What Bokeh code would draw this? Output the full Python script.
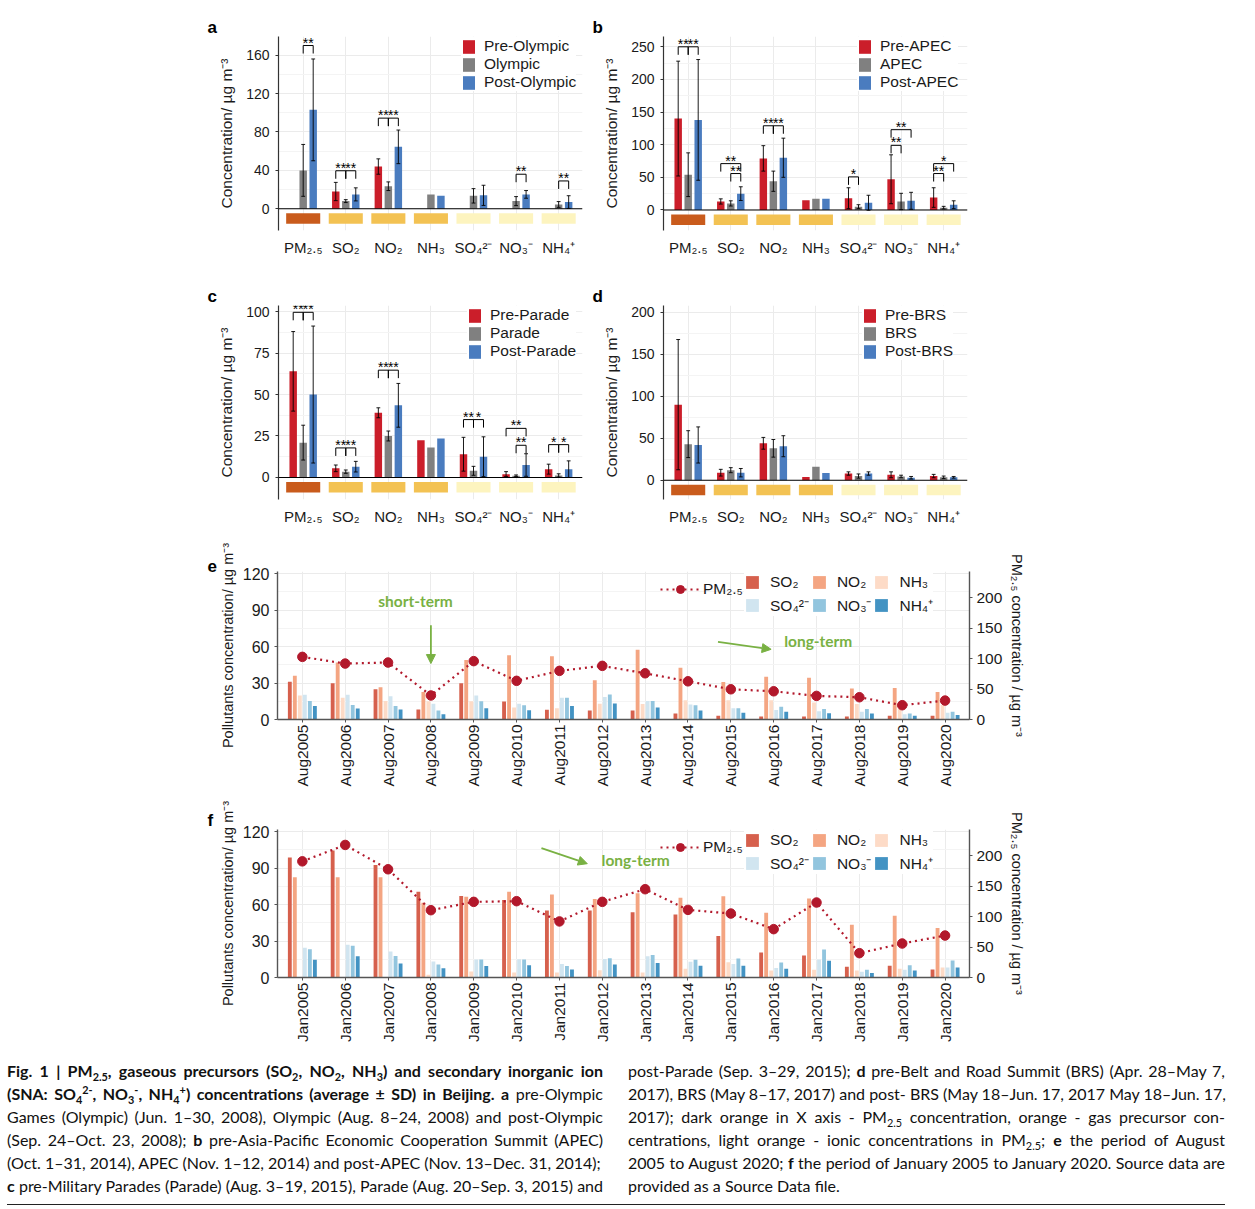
import math
from bokeh.plotting import figure
from bokeh.models import (Range1d, LinearAxis, FixedTicker, Legend, LegendItem,
                          Label, Arrow, NormalHead, Span, Spacer, Div)
from bokeh.layouts import column, row
from bokeh.embed import file_html
from bokeh.resources import INLINE
from bokeh.core.properties import value

FONT = "Liberation Sans"
TXT = "#1a1a1a"
GRID = "#EBEBEB"
GRID_MINOR = "#F4F4F4"
GREEN = "#79B143"

# ---------------- panels a-d data ----------------
CATEGORIES = ["PM₂.₅", "SO₂", "NO₂", "NH₃", "SO₄²⁻", "NO₃⁻", "NH₄⁺"]
CATEGORY_CLASS = ["pm", "gas", "gas", "gas", "ion", "ion", "ion"]
STRIP_COLORS = {"pm": "#C95B1C", "gas": "#F3C253", "ion": "#FDF4BF"}
GROUP_COLORS = ["#CB1E2A", "#808080", "#4A7CBF"]

A_PERIODS = ["Pre-Olympic", "Olympic", "Post-Olympic"]
A_PRE = [None, 18, 44, None, None, None, None]
A_PRE_SD = [None, 9.5, 8, None, None, None, None]
A_MID = [40, 8, 23.5, 15, 13.5, 8, 4.5]
A_MID_SD = [27, 1.5, 4.5, None, 7.5, 4.7, 3]
A_POST = [103, 15, 64.5, 13.5, 14, 15, 7]
A_POST_SD = [53, 6.8, 17.5, None, 10.5, 4, 6.6]
A_SIG = [(0, 1, 2, 170, "**"), (1, 0, 1, 39.6, "**"), (1, 1, 2, 39.6, "**"),
         (2, 0, 1, 94.4, "**"), (2, 1, 2, 94.4, "**"), (5, 1, 2, 36, "**"),
         (6, 1, 2, 29, "**")]
A_YTICKS = [0, 40, 80, 120, 160]
A_YMINOR = [20, 60, 100, 140]

B_PERIODS = ["Pre-APEC", "APEC", "Post-APEC"]
B_PRE = [140, 13, 79, 15, 18, 47, 19]
B_PRE_SD = [88, 4, 19.5, None, 16, 37.5, 15]
B_MID = [54, 10, 44, 17, 5, 13, 3.5]
B_MID_SD = [33.5, 4, 15.5, None, 3, 12.5, 2]
B_POST = [138, 25, 80, 17, 11, 14, 8]
B_POST_SD = [92.5, 10.5, 30, None, 11.5, 13, 6]
B_SIG = [(0, 0, 1, 250, "**"), (0, 1, 2, 250, "**"), (1, 0, 2, 71, "**"),
         (1, 1, 2, 55.8, "**"), (2, 0, 1, 129, "**"), (2, 1, 2, 129, "**"),
         (4, 0, 1, 50.7, "*"), (5, 0, 2, 123, "**"), (5, 0, 1, 99, "**"),
         (6, 0, 2, 71, "*"), (6, 0, 1, 55.8, "**")]
B_YTICKS = [0, 50, 100, 150, 200, 250]
B_YMINOR = [25, 75, 125, 175, 225]

C_PERIODS = ["Pre-Parade", "Parade", "Post-Parade"]
C_PRE = [64, 5.5, 39, 22.5, 14, 2, 5]
C_PRE_SD = [24, 2, 3, None, 10.2, 1.5, 3]
C_MID = [21, 3.5, 25, 18, 4, 1, 1.2]
C_MID_SD = [10.5, 1, 3, None, 2.7, 0.5, 1]
C_POST = [50, 6.5, 43.5, 23.5, 12.5, 7.5, 5]
C_POST_SD = [41.3, 3.2, 13.2, None, 12, 6.8, 5]
C_SIG = [(0, 0, 1, 99.6, "**"), (0, 1, 2, 99.6, "**"), (1, 0, 1, 17.8, "**"),
         (1, 1, 2, 17.8, "**"), (2, 0, 1, 64.7, "**"), (2, 1, 2, 64.7, "**"),
         (4, 0, 1, 34.9, "**"), (4, 1, 2, 34.9, "*"), (5, 0, 2, 29.6, "**"),
         (5, 1, 2, 19.4, "**"), (6, 0, 1, 19.8, "*"), (6, 1, 2, 19.8, "*")]
C_YTICKS = [0, 25, 50, 75, 100]
C_YMINOR = [12.5, 37.5, 62.5, 87.5]

D_PERIODS = ["Pre-BRS", "BRS", "Post-BRS"]
D_PRE = [90, 9, 44, 4, 8, 6.5, 5]
D_PRE_SD = [77.5, 4, 7, None, 2, 3.5, 2]
D_MID = [43, 12, 38, 16, 5, 4.5, 3.5]
D_MID_SD = [16, 3, 10.5, None, 2.5, 1.5, 1.5]
D_POST = [42, 9, 40.5, 8.5, 8, 3, 3.5]
D_POST_SD = [21.5, 5, 12.5, None, 2, 1.5, 1]
D_SIG = []
D_YTICKS = [0, 50, 100, 150, 200]
D_YMINOR = [25, 75, 125, 175]

# ---------------- panels e-f data ----------------
SPECIES = ["SO₂", "NO₂", "NH₃", "SO₄²⁻", "NO₃⁻", "NH₄⁺"]
TREND_COLORS = ["#D6604D", "#F4A582", "#FDDBC7", "#D1E5F0", "#92C5DE", "#4393C3"]
PM_COLOR = "#B2182B"

E_LABELS = ["Aug%d" % y for y in range(2005, 2021)]
E_SO2 = [31, 29.9, 24.9, 8.2, 29.9, 14.8, 8, 7.4, 7.4, 4.9, 3, 2.5, 2.5, 2.5, 3, 3]
E_NO2 = [35.9, 46.8, 26.6, 22.7, 49, 52.9, 52, 32.3, 57.4, 42.6, 30.9, 35.2, 34.4, 25.4, 26, 22.7]
E_NH3 = [19.7, 17.8, 15.3, 15, 15, 9.9, 9.3, 12.9, 12.8, 15.8, 15.8, 15.8, 13.9, 12.8, 9, 12]
E_SO4 = [20.3, 20.3, 19.2, 12.9, 19.7, 12.9, 17.8, 18.6, 15.3, 12.3, 9.3, 7.9, 6.8, 6.3, 4.4, 5.5]
E_NO3 = [15.3, 12, 11, 7.4, 15, 11.8, 17.8, 20.5, 15.3, 11.7, 9.3, 10.4, 8.7, 8.7, 4.9, 6.3]
E_NH4 = [11, 9, 8.2, 4.4, 9.3, 7.7, 11, 13.2, 9.8, 7.4, 5.5, 6.3, 5.2, 4.9, 3, 3.8]
E_PM = [103, 92, 93.7, 39.5, 96, 63.6, 80, 88.2, 76, 62.8, 49.7, 46.4, 38.8, 36.6, 23.5, 31.1]
E_NOTES = [("short-term", 2.64, 97.5), ("long-term", 12.04, 64.3)]
E_ARROWS = [(3.0, 77.5, 3.0, 46.0), (9.7, 63.8, 10.94, 57.7)]

F_LABELS = ["Jan%d" % y for y in range(2005, 2021)]
F_SO2 = [98.7, 104.4, 92.5, 70.6, 67.1, 63.8, 55.1, 55.1, 53.7, 51.8, 34.2, 20.5, 18.1, 8.8, 9.6, 6.6]
F_NO2 = [82.4, 82.4, 82.4, 61.4, 66.3, 70.6, 68.2, 64.6, 69.3, 65.5, 66.8, 53.2, 64.9, 43.3, 50.7, 40.8]
F_NH3 = [None, None, None, 2.2, 4.9, 4.1, 4.1, 6, 4.1, 7.1, 12.6, 5.8, 6.3, 5.8, 7.1, 8.2]
F_SO4 = [24.5, 27, 21.3, 13.1, 14.7, 15, 11.2, 15.3, 17.5, 12.9, 11.2, 7.9, 14.8, 4.7, 6.3, 8.2]
F_NO3 = [23.2, 26.2, 17.7, 10.6, 14.7, 14.7, 9.5, 15.8, 18.4, 14.5, 15.6, 12.3, 23, 6.3, 10.1, 14]
F_NH4 = [14.5, 17.5, 11.5, 7.6, 9.5, 10.1, 6.5, 10.6, 12, 9.6, 9.6, 7.1, 13.7, 3.8, 5.8, 8.2]
F_PM = [191, 218, 178, 110.7, 124.4, 125.5, 92.2, 124.4, 145.2, 111.2, 105.2, 79.5, 123.3, 40, 55.9, 69]
F_NOTES = [("long-term", 7.78, 96.9)]
F_ARROWS = [(5.58, 106.4, 6.65, 93.6)]

TREND_YTICKS = [0, 30, 60, 90, 120]
TREND_YMINOR = [15, 45, 75, 105]
PM_YTICKS = [0, 50, 100, 150, 200]

# ---------------- geometry ----------------
FRAME_H = 194
FRAME_W = 304
BAR_XR = (-0.58, 6.56)
DODGE = 0.235
BAR_W = 0.175
CAP = 0.045


def base_style(p):
    p.outline_line_color = None
    p.background_fill_color = "white"
    p.border_fill_color = "white"
    p.xgrid.grid_line_color = GRID
    p.ygrid.grid_line_color = GRID
    p.ygrid.minor_grid_line_color = GRID_MINOR


def panel_letter(p, letter, offset):
    p.title.text = letter
    p.title.align = "left"
    p.title.offset = offset
    p.title.standoff = 0
    p.title.text_font = FONT
    p.title.text_font_style = "bold"
    p.title.text_font_size = "17px"
    p.title.text_color = "black"


def bar_panel(letter, periods, means, sds, sig, yrange, yticks, yminor, legend_x, mbl, mbt):
    W = 390
    mbb = 40
    p = figure(width=W, height=mbt + FRAME_H + mbb,
               x_range=Range1d(*BAR_XR), y_range=Range1d(*yrange),
               output_backend="svg", toolbar_location=None,
               min_border_left=mbl, min_border_right=W - mbl - FRAME_W,
               min_border_top=mbt, min_border_bottom=mbb)
    base_style(p)
    panel_letter(p, letter, -71)
    upp = (yrange[1] - yrange[0]) / FRAME_H
    idx = list(range(len(CATEGORIES)))

    p.quad(left=[i - 0.4 for i in idx], right=[i + 0.4 for i in idx],
           top=[-4.5 * upp] * len(idx), bottom=[-15 * upp] * len(idx),
           fill_color=[STRIP_COLORS[c] for c in CATEGORY_CLASS], line_color=None)

    rends = []
    ex, ey0, ey1 = [], [], []
    for g in range(3):
        xs, tops = [], []
        for i, (m, s) in enumerate(zip(means[g], sds[g])):
            if m is None:
                continue
            x = i + (g - 1) * DODGE
            xs.append(x)
            tops.append(m)
            if s:
                ex.append(x)
                ey0.append(m - s)
                ey1.append(m + s)
        rends.append(p.vbar(x=xs, top=tops, bottom=0, width=BAR_W,
                            fill_color=GROUP_COLORS[g], line_color=None))
    p.segment(x0=ex, y0=ey0, x1=ex, y1=ey1, line_color="black", line_width=0.9)
    p.segment(x0=[x - CAP for x in ex] * 2, y0=ey0 + ey1,
              x1=[x + CAP for x in ex] * 2, y1=ey0 + ey1,
              line_color="black", line_width=0.9)

    p.add_layout(Span(location=0, dimension="width", line_color="black", line_width=1.1))

    if sig:
        tick = 8 * upp
        bx0, by0, bx1, by1, tx, ty, tt = [], [], [], [], [], [], []
        for cat, i, j, y, lab in sig:
            xi = cat + (i - 1) * DODGE
            xj = cat + (j - 1) * DODGE
            bx0 += [xi, xi, xj]
            bx1 += [xj, xi, xj]
            by0 += [y, y, y]
            by1 += [y, y - tick, y - tick]
            tx.append((xi + xj) / 2)
            ty.append(y + 3 * upp)
            tt.append(lab)
        p.segment(x0=bx0, y0=by0, x1=bx1, y1=by1, line_color="black", line_width=1)
        p.text(x=tx, y=ty, text=tt, text_font=value(FONT), text_font_size=value("14px"),
               text_align="center", text_baseline="middle", text_color="black")

    p.yaxis.ticker = FixedTicker(ticks=yticks, minor_ticks=yminor)
    p.yaxis.axis_label = "Concentration/ µg m⁻³"
    p.yaxis.axis_label_text_font = FONT
    p.yaxis.axis_label_text_font_size = "15.5px"
    p.yaxis.axis_label_text_font_style = "normal"
    p.yaxis.axis_label_text_color = TXT
    p.yaxis.axis_label_standoff = 8
    p.yaxis.major_label_text_font = FONT
    p.yaxis.major_label_text_font_size = "14px"
    p.yaxis.major_label_text_color = TXT
    p.yaxis.major_label_standoff = 5
    p.yaxis.axis_line_color = "#333333"
    p.yaxis.axis_line_width = 1.2
    p.yaxis.major_tick_line_color = "#333333"
    p.yaxis.major_tick_out = 3
    p.yaxis.major_tick_in = 0
    p.yaxis.minor_tick_line_color = None

    p.xaxis.ticker = FixedTicker(ticks=idx)
    p.xaxis.major_label_overrides = {i: c for i, c in enumerate(CATEGORIES)}
    p.xaxis.axis_line_color = None
    p.xaxis.major_tick_line_color = None
    p.xaxis.minor_tick_line_color = None
    p.xaxis.major_label_text_font = FONT
    p.xaxis.major_label_text_font_size = "15px"
    p.xaxis.major_label_text_color = TXT
    p.xaxis.major_label_standoff = 2

    items = [LegendItem(label=periods[g], renderers=[rends[g]]) for g in range(3)]
    leg = Legend(items=items, location=(legend_x, FRAME_H - 55),
                 glyph_width=15, glyph_height=17, label_height=17, spacing=0,
                 padding=0, margin=0, label_standoff=8,
                 label_text_font=FONT, label_text_font_size="15.5px",
                 label_text_color=TXT, border_line_color=None,
                 background_fill_color="white", background_fill_alpha=1)
    p.add_layout(leg)
    return p


TREND_FH = 148
TREND_YR = (0, 121.7)
PM_YR = (0, 243.4)
TREND_XR = (-0.58, 15.57)
T_DODGE = 0.117
T_W = 0.09


def trend_panel(letter, labels, series, pm, notes, arrows, mbt, mbb):
    W = 830
    mbl, mbr = 77, 61
    p = figure(width=W, height=mbt + TREND_FH + mbb,
               x_range=Range1d(*TREND_XR), y_range=Range1d(*TREND_YR),
               output_backend="svg", toolbar_location=None,
               min_border_left=mbl, min_border_right=mbr,
               min_border_top=mbt, min_border_bottom=mbb)
    base_style(p)
    panel_letter(p, letter, -70)
    p.extra_y_ranges = {"pm": Range1d(*PM_YR)}
    idx = list(range(len(labels)))

    rends = []
    for k, vals in enumerate(series):
        xs = [i + (k - 2.5) * T_DODGE for i, v in zip(idx, vals) if v is not None]
        ys = [v for v in vals if v is not None]
        rends.append(p.vbar(x=xs, top=ys, bottom=0, width=T_W,
                            fill_color=TREND_COLORS[k], line_color=None))
    lr = p.line(x=idx, y=pm, y_range_name="pm", line_color=PM_COLOR,
                line_width=2.2, line_dash="2 4")
    sr = p.scatter(x=idx, y=pm, y_range_name="pm", size=9.5,
                   fill_color=PM_COLOR, line_color=PM_COLOR)

    for (txt, x, y) in notes:
        p.add_layout(Label(x=x, y=y, text=txt, text_font="Lato", text_font_style="bold",
                           text_font_size="15.5px", text_color=GREEN,
                           text_align="center", text_baseline="middle"))
    for (x0, y0, x1, y1) in arrows:
        p.add_layout(Arrow(end=NormalHead(size=9, fill_color=GREEN, line_color=GREEN, line_width=1),
                           x_start=x0, y_start=y0, x_end=x1, y_end=y1,
                           line_color=GREEN, line_width=1.8))

    p.yaxis.ticker = FixedTicker(ticks=TREND_YTICKS, minor_ticks=TREND_YMINOR)
    p.yaxis.axis_label = "Pollutants concentration/ µg m⁻³"
    ax_r = LinearAxis(y_range_name="pm", ticker=FixedTicker(ticks=PM_YTICKS),
                      axis_label="PM₂.₅ concentration / µg m⁻³")
    p.add_layout(ax_r, "right")
    for ax in [p.yaxis[0], ax_r]:
        ax.axis_label_text_font = FONT
        ax.axis_label_text_font_size = "14.5px"
        ax.axis_label_text_font_style = "normal"
        ax.axis_label_text_color = TXT
        ax.axis_label_standoff = 4
        ax.major_label_text_font = FONT
        ax.major_label_text_font_size = "16px"
        ax.major_label_text_color = TXT
        ax.major_label_standoff = 4
        ax.axis_line_color = "#555555"
        ax.axis_line_width = 1.4
        ax.major_tick_line_color = "#555555"
        ax.major_tick_out = 3
        ax.major_tick_in = 0
        ax.minor_tick_line_color = None
    ax_r.major_label_text_font_size = "15.5px"

    p.xaxis.ticker = FixedTicker(ticks=idx)
    p.xaxis.major_label_overrides = {i: c for i, c in enumerate(labels)}
    p.xaxis.major_label_orientation = math.pi / 2
    p.xaxis.axis_line_color = "#555555"
    p.xaxis.axis_line_width = 1.4
    p.xaxis.major_tick_line_color = "#555555"
    p.xaxis.major_tick_out = 3
    p.xaxis.major_tick_in = 0
    p.xaxis.minor_tick_line_color = None
    p.xaxis.major_label_text_font = FONT
    p.xaxis.major_label_text_font_size = "15.5px"
    p.xaxis.major_label_text_color = TXT
    p.xaxis.major_label_standoff = 2

    leg_pm = Legend(items=[LegendItem(label="PM₂.₅", renderers=[lr, sr])],
                    location=(383, TREND_FH - 28), glyph_width=40, glyph_height=20,
                    label_height=20, padding=0, margin=0, label_standoff=3,
                    label_text_font=FONT, label_text_font_size="15.5px",
                    label_text_color=TXT, border_line_color=None,
                    background_fill_alpha=0)
    p.add_layout(leg_pm)
    leg_b = Legend(items=[LegendItem(label=SPECIES[k], renderers=[rends[k]]) for k in range(6)],
                   location=(467, TREND_FH - 45), orientation="horizontal", ncols=3,
                   glyph_width=16, glyph_height=16, label_height=20, spacing=2,
                   padding=0, margin=0, label_standoff=10,
                   label_text_font=FONT, label_text_font_size="15.5px",
                   label_text_color=TXT, border_line_color=None,
                   background_fill_color="white", background_fill_alpha=1)
    p.add_layout(leg_b)
    return p


pa = bar_panel("a", A_PERIODS, [A_PRE, A_MID, A_POST], [A_PRE_SD, A_MID_SD, A_POST_SD],
               A_SIG, (-22.6, 179.4), A_YTICKS, A_YMINOR, 183, 78, 28)
pb = bar_panel("b", B_PERIODS, [B_PRE, B_MID, B_POST], [B_PRE_SD, B_MID_SD, B_POST_SD],
               B_SIG, (-31.5, 265.8), B_YTICKS, B_YMINOR, 194, 73, 28)
pc = bar_panel("c", C_PERIODS, [C_PRE, C_MID, C_POST], [C_PRE_SD, C_MID_SD, C_POST_SD],
               C_SIG, (-13.3, 103.7), C_YTICKS, C_YMINOR, 189, 78, 35)
pd_ = bar_panel("d", D_PERIODS, [D_PRE, D_MID, D_POST], [D_PRE_SD, D_MID_SD, D_POST_SD],
                D_SIG, (-22.9, 208), D_YTICKS, D_YMINOR, 199, 73, 35)

pe = trend_panel("e", E_LABELS, [E_SO2, E_NO2, E_NH3, E_SO4, E_NO3, E_NH4], E_PM,
                 E_NOTES, E_ARROWS, 32, 74)
pf = trend_panel("f", F_LABELS, [F_SO2, F_NO2, F_NH3, F_SO4, F_NO3, F_NH4], F_PM,
                 F_NOTES, F_ARROWS, 36, 78)

CAPTION_LEFT = [
    "<b>Fig. 1 | PM<sub>2.5</sub>, gaseous precursors (SO<sub>2</sub>, NO<sub>2</sub>, NH<sub>3</sub>) and secondary inorganic ion</b>",
    "<b>(SNA: SO<sub>4</sub><sup>2-</sup>, NO<sub>3</sub><sup>-</sup>, NH<sub>4</sub><sup>+</sup>) concentrations (average ± SD) in Beijing. a</b> pre-Olympic",
    "Games (Olympic) (Jun. 1–30, 2008), Olympic (Aug. 8–24, 2008) and post-Olympic",
    "(Sep. 24–Oct. 23, 2008); <b>b</b> pre-Asia-Pacific Economic Cooperation Summit (APEC)",
    "(Oct. 1–31, 2014), APEC (Nov. 1–12, 2014) and post-APEC (Nov. 13–Dec. 31, 2014);",
    "<b>c</b> pre-Military Parades (Parade) (Aug. 3–19, 2015), Parade (Aug. 20–Sep. 3, 2015) and",
]
CAPTION_RIGHT = [
    "post-Parade (Sep. 3–29, 2015); <b>d</b> pre-Belt and Road Summit (BRS) (Apr. 28–May 7,",
    "2017), BRS (May 8–17, 2017) and post- BRS (May 18–Jun. 17, 2017 May 18–Jun. 17,",
    "2017); dark orange in X axis - PM<sub>2.5</sub> concentration, orange - gas precursor con-",
    "centrations, light orange - ionic concentrations in PM<sub>2.5</sub>; <b>e</b> the period of August",
    "2005 to August 2020; <b>f</b> the period of January 2005 to January 2020. Source data are",
    "provided as a Source Data file.",
]
JUSTIFY_LEFT = [True, True, True, True, False, True]
JUSTIFY_RIGHT = [True, False, True, True, True, False]


def caption_lines(lines, justify):
    out = []
    for ln, j in zip(lines, justify):
        al = "justify" if j else "left"
        out.append('<div style="white-space:nowrap;text-align:%s;text-align-last:%s;">%s</div>' % (al, al, ln))
    return "".join(out)


cap_html = (
    '<style>sub,sup{font-size:0.68em;line-height:0;}</style>'
    '<div style="position:relative;width:1218px;height:146px;font-family:Lato,sans-serif;'
    'font-size:16px;line-height:23px;color:#111;">'
    '<div style="position:absolute;left:-6px;top:-1px;width:596px;">' + caption_lines(CAPTION_LEFT, JUSTIFY_LEFT) + '</div>'
    '<div style="position:absolute;left:615px;top:-1px;width:597px;">' + caption_lines(CAPTION_RIGHT, JUSTIFY_RIGHT) + '</div>'
    '<div style="position:absolute;left:-6px;top:144px;width:1218px;border-top:1.5px solid #222;"></div>'
    '</div>'
)
cap = Div(text=cap_html, width=1218, height=152)

inner = column(
    row(Spacer(width=192, height=262), pa, pb),
    row(Spacer(width=192, height=269), pc, pd_),
    row(Spacer(width=192, height=254), pe),
    row(Spacer(width=192, height=262), pf),
    cap,
)
layout = column(Spacer(width=10, height=8), row(Spacer(width=8, height=10), inner))

with open("out.html", "w", encoding="utf-8") as fh:
    fh.write(file_html(layout, INLINE, title="Fig. 1"))
